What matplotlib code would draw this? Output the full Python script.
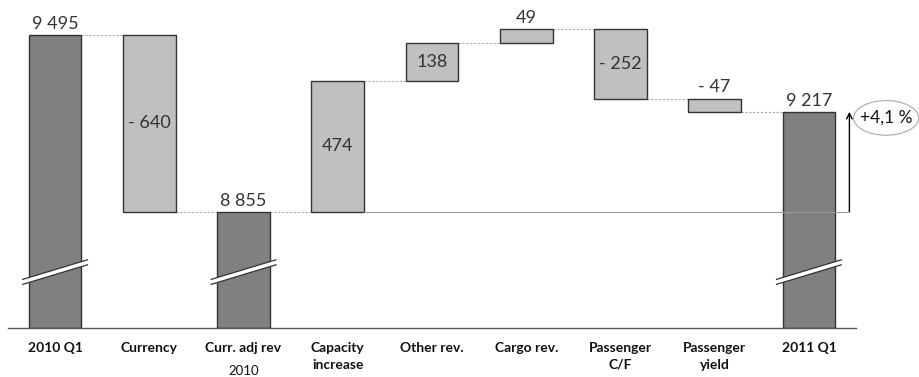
import matplotlib
matplotlib.use("Agg")
import matplotlib.pyplot as plt
from matplotlib.patches import Ellipse, Polygon

# Revenue bridge, 2010 Q1 -> 2011 Q1 (MSEK)
categories = ["2010 Q1", "Currency", "Curr. adj rev", "Capacity\nincrease", "Other rev.",
              "Cargo rev.", "Passenger\nC/F", "Passenger\nyield", "2011 Q1"]
start_total = 9495
steps = {"Currency": -640, "Capacity\nincrease": 474, "Other rev.": 138,
         "Cargo rev.": 49, "Passenger\nC/F": -252, "Passenger\nyield": -47}
subtotal_after = {"Curr. adj rev": 8855, "2011 Q1": 9217}
growth_label = "+4,1 %"
sub_note = "2010"

y_floor = 8436
y_top = 9621

DARK = "#808080"
LIGHT = "#c0c0c0"
EDGE = "#333333"
FONT = "Lato"

plt.rcParams["font.family"] = [FONT, "DejaVu Sans"]

fig = plt.figure(figsize=(9.2, 3.77), dpi=100)
ax = fig.add_axes([8 / 920, 1 - 328 / 377, (856 - 8) / 920, 328 / 377])
ax.set_xlim(-0.5, 8.5)
ax.set_ylim(y_floor, y_top)
for s in ["top", "right", "left"]:
    ax.spines[s].set_visible(False)
ax.spines["bottom"].set_color("#555555")
ax.spines["bottom"].set_linewidth(1.0)
ax.set_yticks([])
ax.set_xticks([])

w = 0.56


def fmt(v):
    s = f"{abs(v):,}".replace(",", " ")
    return ("- " + s) if v < 0 else s


level = start_total
bars = []  # (x, bottom, top, kind, value)
for i, cat in enumerate(categories):
    if i == 0:
        bars.append((i, y_floor, start_total, "total", start_total))
        level = start_total
    elif cat in subtotal_after:
        val = subtotal_after[cat]
        bars.append((i, y_floor, val, "total", val))
        level = val
    else:
        d = steps[cat]
        lo, hi = sorted([level, level + d])
        bars.append((i, lo, hi, "step", d))
        level = level + d

for x, lo, hi, kind, v in bars:
    ax.bar(x, hi - lo, bottom=lo, width=w, color=DARK if kind == "total" else LIGHT,
           edgecolor=EDGE, linewidth=1.0, zorder=2)

# connectors between consecutive bars
running = start_total
levels_after = []
for x, lo, hi, kind, v in bars:
    if kind == "total":
        running = hi
    else:
        running = running + v
    levels_after.append(running)
for i in range(len(bars) - 1):
    ax.plot([i + w / 2, i + 1 - w / 2], [levels_after[i]] * 2, ls=(0, (2, 1.5)),
            color="#aaaaaa", lw=0.8, zorder=1)

# value labels
VAL_KW = dict(fontsize=13, fontweight="normal", color="#333333", zorder=4)
inside = {"Currency", "Capacity\nincrease", "Other rev.", "Passenger\nC/F"}
for (x, lo, hi, kind, v), cat in zip(bars, categories):
    if cat in inside:
        ax.text(x, (lo + hi) / 2, fmt(v), ha="center", va="center", **VAL_KW)
    else:
        ax.text(x, hi + 12, fmt(v), ha="center", va="bottom", **VAL_KW)

# category labels
for i, cat in enumerate(categories):
    ax.text(i, y_floor - 52, cat, ha="center", va="top", fontsize=10,
            fontweight="bold", color="#111111", linespacing=1.45)
ax.text(2, y_floor - 135, sub_note, ha="center", va="top", fontsize=9.5, color="#111111")

# axis-break marks on total bars
bk_y = 8638
dy = 36
th = 9
for x, lo, hi, kind, v in bars:
    if kind != "total":
        continue
    x0, x1 = x - w / 2 - 0.07, x + w / 2 + 0.07
    poly = Polygon([[x0, bk_y - dy - th], [x1, bk_y + dy - th], [x1, bk_y + dy + th],
                    [x0, bk_y - dy + th]], closed=True, fc="white", ec="none", zorder=3)
    ax.add_patch(poly)
    for sgn in (-1, 1):
        ax.plot([x0, x1], [bk_y - dy + sgn * th, bk_y + dy + sgn * th], color=EDGE,
                lw=0.9, zorder=3, solid_capstyle="butt")

# reference line at adjusted 2010 level and growth arrow
base = subtotal_after["Curr. adj rev"]
end = subtotal_after["2011 Q1"]
arrow_x = 8.43
ax.plot([3 + w / 2, arrow_x], [base, base], color="#999999", lw=0.8, zorder=5)
ax.annotate("", xy=(arrow_x, end), xytext=(arrow_x, base),
            arrowprops=dict(arrowstyle="->", color="black", lw=1.0,
                            shrinkA=0, shrinkB=0), annotation_clip=False)
ax.add_patch(Ellipse((8.82, 9195), 0.69, 125, fc="white", ec="#aaaaaa", lw=0.8,
                     clip_on=False, zorder=4))
ax.text(8.82, 9195, growth_label, ha="center", va="center", fontsize=12.5,
        color="#111111", zorder=5, clip_on=False)

fig.savefig("out.png", dpi=100)
